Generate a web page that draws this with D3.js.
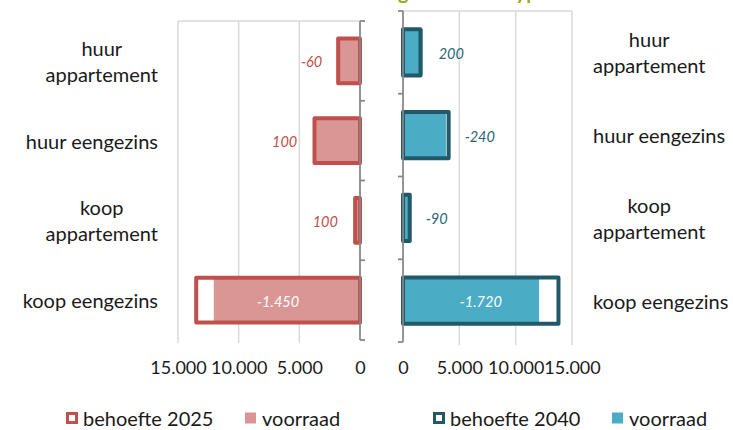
<!DOCTYPE html>
<html>
<head>
<meta charset="utf-8">
<script src="https://cdn.jsdelivr.net/npm/d3@7/dist/d3.min.js"></script>
<style>
  html, body { margin: 0; padding: 0; background: #ffffff; }
  svg { display: block; font-family: Lato, "Open Sans", sans-serif; }
</style>
</head>
<body>
<svg id="chart" width="733" height="430"></svg>
<script>
// Woningtypen (regels gescheiden door \n)
const categories = ["huur\nappartement", "huur eengezins", "koop\nappartement", "koop eengezins"];

// 2025
const behoefte2025 = [1800, 3750, 400, 13500];
const voorraad2025 = [1740, 3850, 500, 12050];
const verschil2025 = [-60, 100, 100, -1450];

// 2040
const behoefte2040 = [1550, 4050, 600, 13800];
const voorraad2040 = [1750, 3810, 510, 12080];
const verschil2040 = [200, -240, -90, -1720];

const axisTicks = [0, 5000, 10000, 15000];
const legend2025 = ["behoefte 2025", "voorraad"];
const legend2040 = ["behoefte 2040", "voorraad"];
const titleText = "Ontwikkeling 2040 naar type";

const nl = d3.formatLocale({ decimal: ",", thousands: ".", grouping: [3], currency: ["€", ""], minus: "-" });
const fmt = nl.format(",d");

const svg = d3.select("#chart");

function panel(cfg) {
  const g = svg.append("g");
  const x = d3.scaleLinear().domain([0, 15000]).range(cfg.xRange);
  const pad = 0.44;
  const y = d3.scaleBand().domain(categories).range([cfg.top, cfg.bottom])
    .paddingInner(pad).paddingOuter(pad / 2);
  const step = y.step();
  const x0 = x(0);

  // top border of the plot area
  g.append("line")
    .attr("x1", x(15000)).attr("x2", x0)
    .attr("y1", cfg.top).attr("y2", cfg.top)
    .attr("stroke", "#d9d9d9").attr("stroke-width", 1.5);

  // vertical gridlines
  g.selectAll("line.grid").data(axisTicks.filter(t => t > 0)).join("line")
    .attr("class", "grid")
    .attr("x1", d => x(d)).attr("x2", d => x(d))
    .attr("y1", cfg.top).attr("y2", cfg.bottom + 3)
    .attr("stroke", "#d9d9d9").attr("stroke-width", 1.5);

  const rows = categories.map((c, i) => ({
    c, b: cfg.behoefte[i], v: cfg.voorraad[i], d: cfg.verschil[i]
  }));
  const bx = v => Math.min(x0, x(v));
  const bw = v => Math.abs(x(v) - x0);

  // behoefte: white body
  g.selectAll("rect.bb").data(rows).join("rect")
    .attr("x", d => bx(d.b)).attr("width", d => bw(d.b))
    .attr("y", d => y(d.c)).attr("height", y.bandwidth())
    .attr("fill", "#ffffff");
  // voorraad
  g.selectAll("rect.vr").data(rows).join("rect")
    .attr("x", d => bx(d.v)).attr("width", d => bw(d.v))
    .attr("y", d => y(d.c)).attr("height", y.bandwidth())
    .attr("fill", cfg.fill);
  // behoefte outline
  g.selectAll("rect.bo").data(rows).join("rect")
    .attr("x", d => bx(d.b)).attr("width", d => bw(d.b))
    .attr("y", d => y(d.c)).attr("height", y.bandwidth())
    .attr("fill", "none").attr("stroke", cfg.stroke).attr("stroke-width", 4)
    .attr("stroke-linejoin", "round");

  // difference labels
  g.selectAll("text.val").data(rows).join("text")
    .attr("x", d => {
      if (d.b > 10000) return (x0 + x(d.b)) / 2;
      return x(Math.max(d.b, d.v)) - cfg.dir * 16;
    })
    .attr("y", d => y(d.c) + y.bandwidth() / 2 + 1)
    .attr("text-anchor", d => d.b > 10000 ? "middle" : (cfg.dir > 0 ? "end" : "start"))
    .attr("dominant-baseline", "central")
    .attr("font-style", "italic").attr("font-size", 14.5)
    .attr("fill", d => d.b > 10000 ? "#ffffff" : cfg.label)
    .text(d => fmt(d.d));

  // category axis line with ticks on the segment boundaries
  g.append("line")
    .attr("x1", x0).attr("x2", x0).attr("y1", cfg.top).attr("y2", cfg.bottom)
    .attr("stroke", "#868686").attr("stroke-width", 1.75);
  g.selectAll("line.ctick").data(d3.range(categories.length + 1)).join("line")
    .attr("x1", x0).attr("x2", x0 + cfg.dir * 5)
    .attr("y1", i => cfg.top + i * step).attr("y2", i => cfg.top + i * step)
    .attr("stroke", "#868686").attr("stroke-width", 1.75);

  // value axis labels
  const ax = g.append("g").attr("transform", `translate(0,${368})`)
    .call(d3.axisBottom(x).tickValues(axisTicks).tickFormat(fmt).tickSize(0).tickPadding(0));
  ax.select(".domain").remove();
  ax.selectAll("text").attr("font-family", "Lato").attr("font-size", 18)
    .attr("fill", "#1a1a1a").attr("dy", "0.35em").attr("y", 0);

  // category labels
  rows.forEach(d => {
    const lines = d.c.split("\n");
    const cy = y(d.c) + y.bandwidth() / 2;
    const t = g.append("text").attr("font-size", 20).attr("fill", "#1a1a1a")
      .attr("text-anchor", "middle").attr("dominant-baseline", "central");
    lines.forEach((ln, k) => {
      t.append("tspan").attr("y", cy + (k - (lines.length - 1) / 2) * 26).text(ln);
    });
    let maxW = 0;
    t.selectAll("tspan").each(function () { maxW = Math.max(maxW, this.getComputedTextLength()); });
    const cx = cfg.dir > 0 ? cfg.labelEdge - maxW / 2 : cfg.labelEdge + maxW / 2;
    t.selectAll("tspan").attr("x", cx);
  });
}

panel({
  xRange: [360, 178], top: 21, bottom: 340, dir: 1, labelEdge: 158,
  behoefte: behoefte2025, voorraad: voorraad2025, verschil: verschil2025,
  fill: "#d99694", stroke: "#c0504d", label: "#c0504d"
});
panel({
  xRange: [403, 572], top: 11, bottom: 342, dir: -1, labelEdge: 593,
  behoefte: behoefte2040, voorraad: voorraad2040, verschil: verschil2040,
  fill: "#4bacc6", stroke: "#215968", label: "#2b6576"
});

// chart title, sitting above the top edge so only its descenders reach in
const title = svg.append("text")
  .attr("x", 0).attr("y", -1.5)
  .attr("font-weight", "bold").attr("font-size", 20).attr("fill", "#9da623")
  .text(titleText);
const gi = titleText.indexOf("g");
const gx = title.node().getStartPositionOfChar(gi).x;
title.attr("x", 398 - gx);

// legends
function legend(items, x0, stroke, fill, gap) {
  const g = svg.append("g").attr("transform", `translate(${x0},418)`);
  g.append("rect").attr("x", 1.5).attr("y", -4.5).attr("width", 9).attr("height", 9)
    .attr("fill", "#ffffff").attr("stroke", stroke).attr("stroke-width", 3);
  g.append("text").attr("x", 17).attr("y", 0).attr("dominant-baseline", "central")
    .attr("font-size", 20).attr("fill", "#1a1a1a").text(items[0]);
  g.append("rect").attr("x", gap).attr("y", -5.5).attr("width", 11).attr("height", 11)
    .attr("fill", fill);
  g.append("text").attr("x", gap + 17).attr("y", 0).attr("dominant-baseline", "central")
    .attr("font-size", 20).attr("fill", "#1a1a1a").text(items[1]);
}
legend(legend2025, 66, "#c0504d", "#d99694", 179);
legend(legend2040, 433, "#215968", "#4bacc6", 179);
</script>
</body>
</html>
